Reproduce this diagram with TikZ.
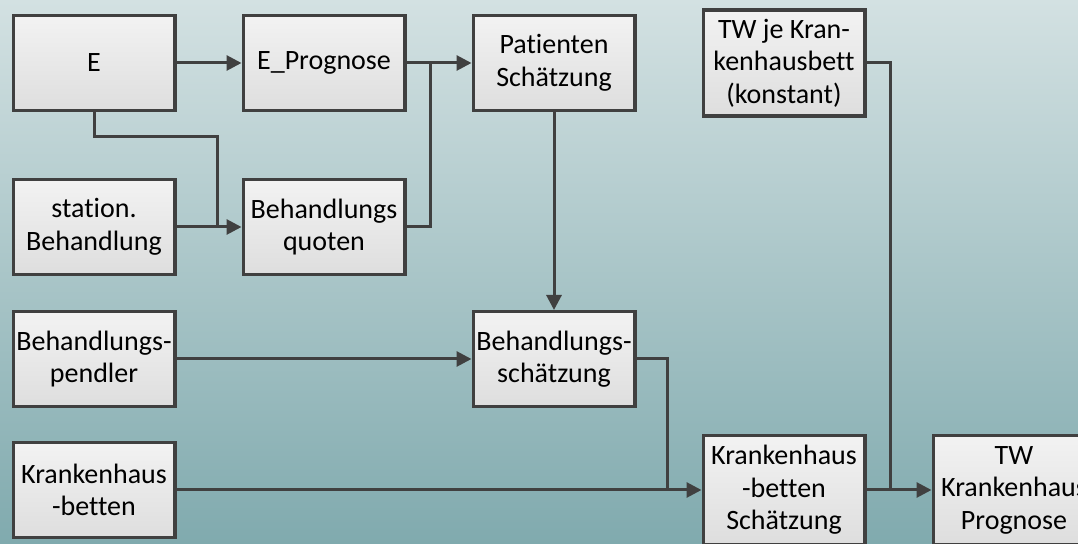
\documentclass[tikz,border=0pt]{standalone}
\usepackage{fontspec}
\setmainfont{Carlito}[Ligatures=NoCommon]
\usetikzlibrary{positioning,arrows.meta,shadows}

\definecolor{bgtop}{HTML}{D3E1E2}
\definecolor{bgbot}{HTML}{80AAAE}
\definecolor{boxline}{HTML}{404040}

\begin{document}
\begin{tikzpicture}[node distance=32.5pt, >={Triangle[length=7.5pt,width=7.5pt]},
    block/.style={draw=boxline, line width=1.6pt, rectangle, top color=white!95!black, bottom color=white!87!black,
      drop shadow={shadow xshift=1pt, shadow yshift=-1pt, opacity=0.25},
      minimum width=80.9pt, minimum height=47.4pt, align=center, inner sep=1pt,
      font=\fontsize{14}{16.25}\selectfont},
    tall/.style={block, minimum height=53pt},
    link/.style={draw=boxline, line width=1.5pt}]
  \clip (0,0) rectangle (539pt,-272pt);
  \shade[top color=bgtop, bottom color=bgbot] (0,0) rectangle (539pt,-272pt);

  \node[block] (e) at (47pt,-31.5pt) {E};
  \node[block, right=of e] (eprog) {E\_Prognose};
  \node[block, right=of eprog] (patient) {Patienten\\Schätzung};
  \node[tall, right=of patient] (twbett) {TW je Kran-\\kenhausbett\\(konstant)};
  \node[block, below=33pt of e] (station) {station.\\Behandlung};
  \node[block, right=of station] (quoten) {Behandlungs\\quoten};
  \node[block, below=17pt of station] (pendler) {Behandlungs-\\pendler};
  \node[block, right=147.5pt of pendler] (bschaetz) {Behandlungs-\\schätzung};
  \node[block, below=16.5pt of pendler] (kh) {Krankenhaus\\-betten};
  \node[tall, minimum height=54.4pt, right=262.5pt of kh] (khschaetz) {Krankenhaus\\-betten\\Schätzung};
  \node[tall, minimum height=54.4pt, right=of khschaetz] (twprog) {TW\\Krankenhaus\\Prognose};

  % junctions on the arrows
  \coordinate (jq) at ([xshift=-12pt]quoten.west);
  \coordinate (jp) at ([xshift=-20.5pt]patient.west);
  \coordinate (jk) at ([xshift=-17pt]khschaetz.west);
  \coordinate (jt) at ([xshift=-20.5pt]twprog.west);

  \draw[link,->] (e) -- (eprog);
  \draw[link,->] (eprog) -- (patient);
  \draw[link,->] (station) -- (quoten);
  \draw[link,->] (patient) -- (bschaetz);
  \draw[link,->] (pendler) -- (bschaetz);
  \draw[link,->] (kh) -- (khschaetz);
  \draw[link,->] (khschaetz) -- (twprog);

  \draw[link] (e.south) -- ++(0,-12.5pt) -| (jq);
  \draw[link] (quoten.east) -| (jp);
  \draw[link] (bschaetz.east) -| (jk);
  \draw[link] (twbett.east) -| (jt);
\end{tikzpicture}
\end{document}
